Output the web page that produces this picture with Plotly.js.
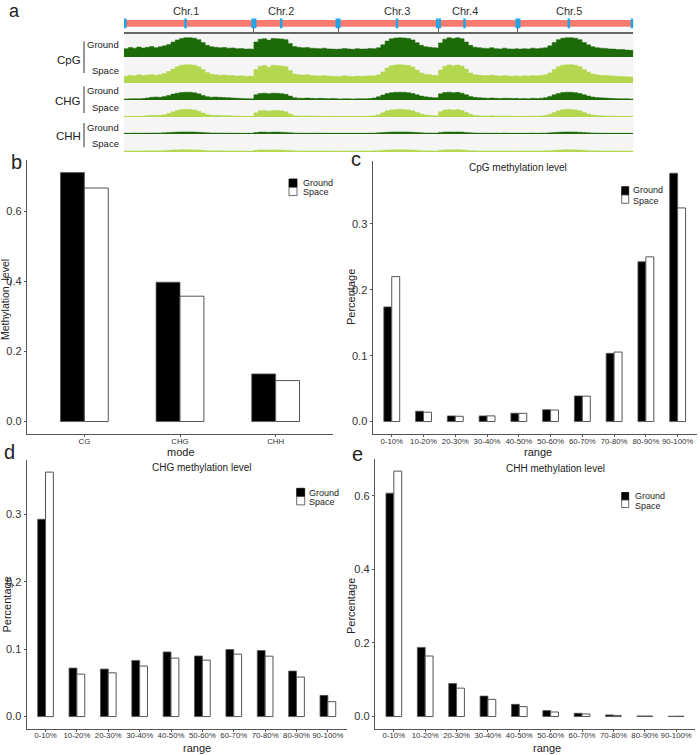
<!DOCTYPE html>
<html><head><meta charset="utf-8">
<script src="https://cdn.plot.ly/plotly-3.0.1.min.js"></script>
<style>html,body{margin:0;padding:0;background:#fff}#chart{width:700px;height:755px}</style>
</head><body><div id="chart"></div>
<script>
// ---------- Panel a : genome tracks (1 Mb bins) ----------
const chrNames = ['Chr.1', 'Chr.2', 'Chr.3', 'Chr.4', 'Chr.5'];
const chrLengthsMb = [30.4, 19.7, 23.5, 18.6, 27.0];
const centromereMb = [14.4, 6.4, 13.8, 6.1, 11.9];
const contextNames = ['CpG', 'CHG', 'CHH'];
const sampleNames = ['Ground', 'Space'];

// methylation level per 1-Mb bin, Chr1..Chr5 concatenated
const cpgGround = [
  0.34,0.39,0.36,0.41,0.37,0.40,0.43,0.38,0.42,0.46,0.52,0.62,0.71,0.77,0.80,0.80,0.78,0.72,0.60,0.48,0.42,0.40,0.38,0.39,0.36,0.37,0.34,0.35,0.32,0.33,0.31,
  0.62,0.74,0.76,0.70,0.77,0.76,0.75,0.72,0.56,0.43,0.40,0.38,0.39,0.36,0.35,0.34,0.36,0.33,0.32,0.31,
  0.32,0.35,0.33,0.31,0.34,0.32,0.33,0.35,0.34,0.38,0.50,0.66,0.76,0.79,0.80,0.79,0.77,0.71,0.59,0.48,0.42,0.40,0.38,0.37,
  0.58,0.74,0.80,0.77,0.80,0.76,0.62,0.48,0.40,0.38,0.36,0.35,0.38,0.34,0.33,0.36,0.33,0.32,0.34,
  0.32,0.34,0.33,0.36,0.34,0.36,0.38,0.46,0.60,0.72,0.78,0.80,0.80,0.78,0.72,0.60,0.50,0.42,0.38,0.36,0.35,0.33,0.32,0.30,0.30,0.28,0.27];
const cpgSpace = [
  0.24,0.28,0.26,0.30,0.27,0.29,0.31,0.28,0.32,0.36,0.44,0.54,0.64,0.70,0.72,0.72,0.70,0.64,0.52,0.40,0.33,0.30,0.28,0.29,0.27,0.27,0.25,0.26,0.24,0.25,0.23,
  0.52,0.66,0.69,0.62,0.70,0.69,0.67,0.64,0.48,0.34,0.30,0.29,0.30,0.27,0.26,0.25,0.27,0.25,0.24,0.23,
  0.23,0.26,0.24,0.23,0.25,0.24,0.25,0.26,0.26,0.30,0.42,0.58,0.68,0.71,0.72,0.71,0.69,0.63,0.50,0.38,0.32,0.30,0.28,0.27,
  0.50,0.66,0.71,0.68,0.71,0.67,0.54,0.38,0.31,0.29,0.27,0.27,0.29,0.26,0.25,0.27,0.25,0.24,0.26,
  0.24,0.26,0.25,0.27,0.26,0.28,0.30,0.38,0.52,0.64,0.70,0.72,0.72,0.70,0.64,0.52,0.42,0.34,0.30,0.28,0.27,0.26,0.25,0.24,0.23,0.22,0.21];
const chgGround = [
  0.04,0.05,0.06,0.05,0.07,0.10,0.14,0.16,0.15,0.20,0.26,0.34,0.40,0.44,0.46,0.45,0.42,0.36,0.26,0.18,0.15,0.16,0.14,0.13,0.12,0.10,0.09,0.07,0.06,0.05,0.05,
  0.30,0.38,0.40,0.37,0.40,0.39,0.37,0.33,0.22,0.12,0.09,0.08,0.10,0.08,0.07,0.08,0.07,0.06,0.07,0.06,
  0.04,0.05,0.05,0.04,0.05,0.06,0.05,0.07,0.10,0.18,0.28,0.38,0.43,0.45,0.46,0.45,0.43,0.38,0.30,0.22,0.17,0.14,0.12,0.11,
  0.36,0.44,0.46,0.43,0.45,0.40,0.30,0.20,0.14,0.12,0.10,0.09,0.10,0.08,0.07,0.09,0.08,0.07,0.08,
  0.06,0.07,0.06,0.08,0.07,0.09,0.12,0.20,0.30,0.38,0.44,0.46,0.45,0.43,0.38,0.30,0.22,0.16,0.13,0.11,0.10,0.08,0.07,0.06,0.05,0.05,0.04];
const chgSpace = [
  0.03,0.04,0.04,0.03,0.05,0.07,0.09,0.10,0.10,0.14,0.22,0.32,0.40,0.46,0.48,0.47,0.44,0.36,0.24,0.14,0.10,0.10,0.09,0.08,0.07,0.06,0.05,0.04,0.04,0.03,0.03,
  0.26,0.38,0.41,0.37,0.41,0.40,0.38,0.32,0.18,0.08,0.06,0.05,0.06,0.05,0.05,0.05,0.04,0.04,0.05,0.04,
  0.03,0.03,0.04,0.03,0.03,0.04,0.04,0.05,0.07,0.14,0.26,0.38,0.44,0.47,0.48,0.47,0.44,0.38,0.28,0.18,0.12,0.10,0.08,0.07,
  0.32,0.44,0.47,0.43,0.46,0.40,0.28,0.16,0.09,0.07,0.06,0.06,0.07,0.05,0.05,0.06,0.05,0.04,0.05,
  0.04,0.05,0.04,0.05,0.05,0.06,0.09,0.17,0.28,0.38,0.45,0.48,0.47,0.44,0.38,0.28,0.18,0.12,0.09,0.07,0.06,0.05,0.05,0.04,0.04,0.03,0.03];
const chhGround = [
  0.02,0.02,0.03,0.02,0.03,0.03,0.04,0.04,0.04,0.05,0.07,0.09,0.10,0.11,0.11,0.11,0.10,0.09,0.07,0.05,0.04,0.04,0.04,0.03,0.03,0.03,0.03,0.02,0.02,0.02,0.02,
  0.07,0.10,0.10,0.09,0.10,0.10,0.09,0.08,0.06,0.04,0.03,0.03,0.03,0.03,0.03,0.03,0.02,0.02,0.02,0.02,
  0.02,0.02,0.02,0.02,0.02,0.02,0.02,0.03,0.03,0.05,0.07,0.09,0.10,0.11,0.11,0.11,0.10,0.09,0.07,0.05,0.04,0.04,0.03,0.03,
  0.08,0.10,0.11,0.10,0.11,0.10,0.08,0.05,0.04,0.03,0.03,0.03,0.03,0.03,0.02,0.03,0.02,0.02,0.02,
  0.02,0.02,0.02,0.03,0.02,0.03,0.03,0.05,0.07,0.09,0.10,0.11,0.11,0.10,0.09,0.07,0.05,0.04,0.03,0.03,0.03,0.02,0.02,0.02,0.02,0.02,0.02];
const chhSpace = [
  0.01,0.02,0.02,0.02,0.02,0.03,0.03,0.03,0.03,0.04,0.06,0.08,0.09,0.10,0.10,0.10,0.09,0.08,0.06,0.04,0.03,0.03,0.03,0.02,0.02,0.02,0.02,0.02,0.01,0.01,0.01,
  0.06,0.09,0.09,0.08,0.09,0.09,0.08,0.07,0.05,0.03,0.02,0.02,0.02,0.02,0.02,0.02,0.02,0.01,0.02,0.01,
  0.01,0.01,0.02,0.01,0.02,0.02,0.02,0.02,0.03,0.04,0.06,0.08,0.09,0.10,0.10,0.10,0.09,0.08,0.06,0.04,0.03,0.03,0.02,0.02,
  0.07,0.09,0.10,0.09,0.10,0.09,0.07,0.04,0.03,0.02,0.02,0.02,0.02,0.02,0.02,0.02,0.02,0.01,0.02,
  0.02,0.02,0.02,0.02,0.02,0.02,0.03,0.04,0.06,0.08,0.09,0.10,0.10,0.09,0.08,0.06,0.04,0.03,0.03,0.02,0.02,0.02,0.02,0.02,0.01,0.01,0.01];

// ---------- Panel b : average methylation ----------
const modeCategories = ['CG', 'CHG', 'CHH'];
const modeGround = [0.711, 0.398, 0.136];
const modeSpace = [0.667, 0.358, 0.117];

// ---------- Panels c-e : distribution over methylation ranges ----------
const rangeCategories = ['0-10%','10-20%','20-30%','30-40%','40-50%','50-60%','60-70%','70-80%','80-90%','90-100%'];
const cpgRangeGround = [0.174, 0.0157, 0.0086, 0.0086, 0.0127, 0.0180, 0.0389, 0.1035, 0.2426, 0.377];
const cpgRangeSpace  = [0.220, 0.0142, 0.0080, 0.0086, 0.0125, 0.0175, 0.0385, 0.1055, 0.2500, 0.3243];
const chgRangeGround = [0.293, 0.0720, 0.0705, 0.0833, 0.0960, 0.0900, 0.0996, 0.0980, 0.0676, 0.0315];
const chgRangeSpace  = [0.363, 0.0630, 0.0650, 0.0750, 0.0868, 0.0838, 0.0927, 0.0897, 0.0587, 0.0222];
const chhRangeGround = [0.607, 0.188, 0.0899, 0.0556, 0.0332, 0.0162, 0.0089, 0.0045, 0.0018, 0.0010];
const chhRangeSpace  = [0.667, 0.1646, 0.0772, 0.0467, 0.0270, 0.0124, 0.0071, 0.0030, 0.0015, 0.0009];

// ================= drawing =================
const W = 700, H = 755;
const px2x = p => p / W;
const px2y = p => 1 - p / H;
const FONT = 'Liberation Sans, Arial, sans-serif';
const GROUND_GREEN = '#1c6a08';
const SPACE_GREEN = '#b4d74f';
const AXIS_COL = '#555555';

const traces = [];
const layout = {
  width: W, height: H, margin: {l: 0, r: 0, t: 0, b: 0},
  paper_bgcolor: '#ffffff', plot_bgcolor: 'rgba(0,0,0,0)',
  showlegend: false, barmode: 'group', bargap: 0.5, bargroupgap: 0,
  font: {family: FONT, color: '#222'},
  shapes: [], annotations: []
};

// genome coordinates
const chrStarts = [];
let acc = 0;
chrLengthsMb.forEach(l => { chrStarts.push(acc); acc += l; });
const genomeLen = acc;
const binStarts = [];
chrLengthsMb.forEach((len, c) => {
  for (let i = 0; i < Math.ceil(len - 1e-9); i++) binStarts.push(chrStarts[c] + i);
});
const stepX = binStarts.concat([genomeLen]);
const stepY = vals => vals.concat([vals[vals.length - 1]]);

const A_X0 = 124, A_X1 = 633.3;
layout.xaxis = {
  domain: [px2x(A_X0), px2x(A_X1)], range: [0, genomeLen], anchor: 'y',
  showline: true, linecolor: '#666', linewidth: 2, ticks: 'inside', ticklen: 5,
  tickwidth: 1, tickcolor: '#666',
  tickvals: chrStarts.concat([genomeLen]), showticklabels: false,
  showgrid: false, zeroline: false, fixedrange: true
};
// ideogram
layout.yaxis = {domain: [px2y(31.5), px2y(18)], range: [0, 1], anchor: 'x',
  visible: false, fixedrange: true};
traces.push({
  type: 'bar', orientation: 'h', xaxis: 'x', yaxis: 'y',
  y: chrNames.map(() => 0.6), x: chrLengthsMb, base: chrStarts, width: 0.5,
  marker: {color: '#f77b6e', line: {width: 0}}, hoverinfo: 'skip'
});
const ends = [];
chrLengthsMb.forEach((l, c) => { ends.push(chrStarts[c] + 0.3); ends.push(chrStarts[c] + l - 0.3); });
traces.push({
  type: 'scatter', mode: 'markers', xaxis: 'x', yaxis: 'y',
  x: ends.concat(centromereMb.map((m, c) => chrStarts[c] + m)),
  y: ends.concat(centromereMb).map(() => 0.6),
  marker: {symbol: 'line-ns', size: 7, line: {color: '#1ea5e9', width: 2.5}},
  hoverinfo: 'skip'
});
chrNames.forEach((n, c) => layout.annotations.push({
  xref: 'x', yref: 'paper', x: chrStarts[c] + centromereMb[c], y: px2y(11),
  text: n, showarrow: false, xanchor: 'center', yanchor: 'middle',
  font: {size: 11, color: '#333', family: FONT}
}));

const tracks = [
  {vals: cpgGround, color: GROUND_GREEN, top: 33, bot: 57.3},
  {vals: cpgSpace,  color: SPACE_GREEN,  top: 58, bot: 82.7},
  {vals: chgGround, color: GROUND_GREEN, top: 83.5, bot: 100},
  {vals: chgSpace,  color: SPACE_GREEN,  top: 101, bot: 117.3},
  {vals: chhGround, color: GROUND_GREEN, top: 118.5, bot: 134},
  {vals: chhSpace,  color: SPACE_GREEN,  top: 135.5, bot: 151.7}
];
tracks.forEach((t, k) => {
  const yn = 'yaxis' + (k + 2);
  layout[yn] = {domain: [px2y(t.bot), px2y(t.top)], range: [-0.025, 1], anchor: 'x',
    showgrid: false, showline: false, showticklabels: false, ticks: '',
    zeroline: true, zerolinecolor: t.color, zerolinewidth: 1, fixedrange: true};
  layout.shapes.push({type: 'rect', xref: 'paper', yref: 'paper', layer: 'below',
    x0: px2x(A_X0), x1: px2x(A_X1), y0: px2y(t.bot + 0.5), y1: px2y(t.top - 0.5),
    fillcolor: '#f5f5f5', line: {width: 0}});
  traces.push({type: 'scatter', mode: 'lines', xaxis: 'x', yaxis: 'y' + (k + 2),
    x: stepX, y: stepY(t.vals), fill: 'tozeroy', fillcolor: t.color,
    line: {color: t.color, width: 0.5, shape: 'hv'}, hoverinfo: 'skip'});
});
// context labels + brackets
const ctxPos = [
  {ctx: 59.5, b0: 41.3, b1: 73, g: 44.7, s: 70.7},
  {ctx: 101.3, b0: 86.3, b1: 113, g: 90.7, s: 108},
  {ctx: 136.3, b0: 123, b1: 147.3, g: 127, s: 143}
];
contextNames.forEach((n, i) => {
  const p = ctxPos[i];
  layout.annotations.push({xref: 'paper', yref: 'paper', x: px2x(82.5), y: px2y(p.ctx),
    text: n, showarrow: false, xanchor: 'right', yanchor: 'middle',
    font: {size: 11.5, color: '#222', family: FONT}});
  layout.shapes.push({type: 'line', xref: 'paper', yref: 'paper',
    x0: px2x(84), x1: px2x(84), y0: px2y(p.b0), y1: px2y(p.b1), line: {color: '#333', width: 1}});
  [[sampleNames[0], p.g], [sampleNames[1], p.s]].forEach(([s, yy]) =>
    layout.annotations.push({xref: 'paper', yref: 'paper', x: px2x(120.5), y: px2y(yy),
      text: s, showarrow: false, xanchor: 'right', yanchor: 'middle',
      font: {size: 9.5, color: '#222', family: FONT}}));
});

// ---------- bar panels ----------
function barPanel(idx, cats, g, s, xd, yd, yrange, dtick) {
  const xa = 'xaxis' + idx, ya = 'yaxis' + (idx + 6);
  const xr = 'x' + idx, yr = 'y' + (idx + 6);
  layout[xa] = {domain: [px2x(xd[0]), px2x(xd[1])], anchor: yr, type: 'category',
    range: [-0.6, cats.length - 0.4], showline: true, linecolor: AXIS_COL, linewidth: 1.2,
    ticks: 'outside', ticklen: 2, tickcolor: AXIS_COL, tickwidth: 1, tickangle: 0,
    tickfont: {size: 7.8, color: '#333', family: FONT}, showgrid: false, zeroline: false,
    fixedrange: true, ticklabelstandoff: -3};
  layout[ya] = {domain: [px2y(yd[1]), px2y(yd[0])], anchor: xr, range: yrange,
    dtick: dtick, tick0: 0, tickformat: '.1f', showline: true, linecolor: AXIS_COL, linewidth: 1.2,
    ticks: 'outside', ticklen: 2, tickcolor: AXIS_COL, tickwidth: 1,
    tickfont: {size: 11, color: '#333', family: FONT}, showgrid: false, zeroline: false,
    fixedrange: true};
  traces.push({type: 'bar', name: 'Ground', x: cats, y: g, xaxis: xr, yaxis: yr,
    marker: {color: '#000000', line: {color: AXIS_COL, width: 0.8}}});
  traces.push({type: 'bar', name: 'Space', x: cats, y: s, xaxis: xr, yaxis: yr,
    marker: {color: '#ffffff', line: {color: AXIS_COL, width: 1}}});
}
barPanel(2, modeCategories, modeGround, modeSpace, [27, 333], [160, 434], [-0.0356, 0.747], 0.2);
barPanel(3, rangeCategories, cpgRangeGround, cpgRangeSpace, [372.7, 696.7], [160.7, 434], [-0.0189, 0.396], 0.1);
barPanel(4, rangeCategories, chgRangeGround, chgRangeSpace, [26.7, 346.7], [460, 728.7], [-0.018, 0.381], 0.1);
barPanel(5, rangeCategories, chhRangeGround, chhRangeSpace, [375, 695], [459, 728.7], [-0.033, 0.70], 0.2);

function ann(text, x, y, size, opts) {
  layout.annotations.push(Object.assign({xref: 'paper', yref: 'paper', x: px2x(x), y: px2y(y),
    text: text, showarrow: false, xanchor: 'center', yanchor: 'middle',
    font: {size: size, color: '#222', family: FONT}}, opts || {}));
}
function legendBox(sqx, sqy, sw, sh, tx, ty1, ty2) {
  layout.shapes.push({type: 'rect', xref: 'paper', yref: 'paper', x0: px2x(sqx), x1: px2x(sqx + sw),
    y0: px2y(sqy + sh), y1: px2y(sqy), fillcolor: '#000', line: {color: '#000', width: 0.8}});
  layout.shapes.push({type: 'rect', xref: 'paper', yref: 'paper', x0: px2x(sqx), x1: px2x(sqx + sw),
    y0: px2y(sqy + 2 * sh), y1: px2y(sqy + sh), fillcolor: '#fff', line: {color: '#444', width: 0.8}});
  ann(sampleNames[0], tx, ty1, 9, {xanchor: 'left'});
  ann(sampleNames[1], tx, ty2, 9, {xanchor: 'left'});
}

// panel letters
ann('a', 8, 0, 18, {xanchor: 'left', yanchor: 'top', borderpad: 0});
ann('b', 9, 162, 20, {xanchor: 'left'});
ann('c', 349, 159, 20, {xanchor: 'left'});
ann('d', 2, 452, 20, {xanchor: 'left'});
ann('e', 350, 454, 20, {xanchor: 'left'});

// panel b
ann('Methylation_level', 5, 300, 10.5, {textangle: -90});
ann('mode', 181, 451.5, 11);
legendBox(289, 179, 8, 8.3, 300.5, 182.5, 192.3);
// panel c
ann('CpG methylation level', 518, 167, 10);
ann('Percentage', 351, 297, 11, {textangle: -90});
ann('range', 538, 451.5, 11);
legendBox(621.7, 186.7, 7, 8.3, 630.5, 190.5, 200.5);
// panel d
ann('CHG methylation level', 201.7, 467.5, 10);
ann('Percentage', 6.5, 605, 11, {textangle: -90});
ann('range', 197, 747.5, 11);
legendBox(296.7, 488.3, 8, 8.3, 306.5, 492.5, 502);
// panel e
ann('CHH methylation level', 555, 468.3, 10);
ann('Percentage', 351, 606, 11, {textangle: -90});
ann('range', 546.7, 747.5, 11);
legendBox(621.7, 492.5, 7, 7.5, 633, 495.5, 506);

Plotly.newPlot('chart', traces, layout, {staticPlot: true, displayModeBar: false});
</script>
</body></html>
